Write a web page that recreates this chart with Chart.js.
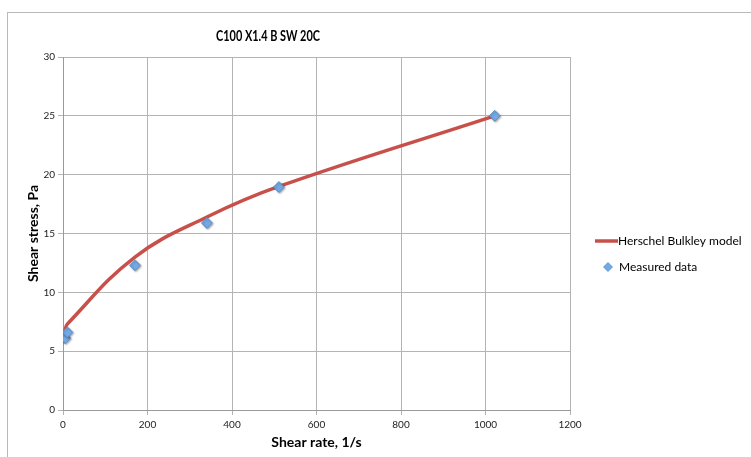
<!DOCTYPE html>
<html>
<head>
<meta charset="utf-8">
<script src="https://cdn.jsdelivr.net/npm/chart.js@4/dist/chart.umd.min.js"></script>
<style>
  html, body { margin: 0; padding: 0; background: #fff; overflow: hidden; }
  #wrap { position: absolute; left: 0; top: 0; width: 751px; height: 457px; }
</style>
</head>
<body>
<div id="wrap"><canvas id="c" width="751" height="457"></canvas></div>
<script>
// Rheology data: C100 X1.4 B SW 20C
const chartTitle = 'C100 X1.4 B SW 20C';
const xTitle = 'Shear rate, 1/s';
const yTitle = 'Shear stress, Pa';
const seriesNames = ['Herschel Bulkley model', 'Measured data'];

// Herschel-Bulkley model curve (shear rate, shear stress)
const modelRate   = [0, 5.1, 10.2, 170.3, 340.6, 510.9, 1021.8];
const modelStress = [5.7, 6.8, 7.3, 13.0, 16.4, 19.0, 25.0];

// Measured viscometer readings
const measRate   = [5.1, 10.2, 170.3, 340.6, 510.9, 1021.8];
const measStress = [6.1, 6.6, 12.3, 15.9, 18.95, 25.0];

// Axis ranges and tick steps
const xTicks = { min: 0, max: 1200, step: 200 };
const yTicks = { min: 0, max: 30, step: 5 };

const RED = '#c8504a';
const BLUE = '#74a9e4';
const BLUE_EDGE = '#5289c8';
const GRID = '#b4b4b4';
const AXIS = '#9a9a9a';
const FONT = 'Lato, "Liberation Sans", sans-serif';

const pairs = (xs, ys) => xs.map((x, i) => ({ x, y: ys[i] }));
const plainTick = v => String(v);

// Frame, title and legend drawn around the plot
const decor = {
  id: 'decor',
  beforeDraw(chart) {
    const ctx = chart.ctx;
    ctx.save();
    ctx.fillStyle = '#fff';
    ctx.fillRect(0, 0, chart.width, chart.height);
    ctx.strokeStyle = '#b9b9b9';
    ctx.lineWidth = 1;
    ctx.strokeRect(7.5, 12.5, 900, 600);
    ctx.restore();
  },
  afterDraw(chart) {
    const ctx = chart.ctx;
    ctx.save();
    ctx.fillStyle = '#000';
    ctx.textBaseline = 'middle';
    ctx.textAlign = 'center';
    // condensed bold title
    ctx.font = 'bold 15px ' + FONT;
    const w = ctx.measureText(chartTitle).width;
    ctx.save();
    ctx.translate(268, 36);
    ctx.scale(Math.min(1, 104 / w), 1);
    ctx.fillText(chartTitle, 0, 0);
    ctx.restore();

    // legend
    ctx.textAlign = 'left';
    ctx.font = '12px ' + FONT;
    ctx.strokeStyle = RED;
    ctx.lineWidth = 3.5;
    ctx.beginPath();
    ctx.moveTo(595, 241);
    ctx.lineTo(618, 241);
    ctx.stroke();
    ctx.fillText(seriesNames[0], 618, 241);

    ctx.fillStyle = BLUE;
    ctx.strokeStyle = BLUE_EDGE;
    ctx.lineWidth = 0.75;
    ctx.beginPath();
    ctx.moveTo(608, 262.5);
    ctx.lineTo(612.5, 267);
    ctx.lineTo(608, 271.5);
    ctx.lineTo(603.5, 267);
    ctx.closePath();
    ctx.fill();
    ctx.stroke();
    ctx.fillStyle = '#000';
    ctx.fillText(seriesNames[1], 619, 267);
    ctx.restore();
  },
  beforeDatasetDraw(chart, args) {
    if (args.index === 1) {
      const ctx = chart.ctx;
      ctx.save();
      ctx.shadowColor = 'rgba(0,0,0,0.35)';
      ctx.shadowBlur = 2;
      ctx.shadowOffsetX = 1;
      ctx.shadowOffsetY = 1;
    }
  },
  afterDatasetDraw(chart, args) {
    if (args.index === 1) chart.ctx.restore();
  }
};

new Chart(document.getElementById('c'), {
  type: 'scatter',
  data: {
    datasets: [
      {
        label: seriesNames[0],
        data: pairs(modelRate, modelStress),
        showLine: true,
        borderColor: RED,
        borderWidth: 3.5,
        pointRadius: 0,
        tension: 0.4,
        fill: false,
        order: 2
      },
      {
        label: seriesNames[1],
        data: pairs(measRate, measStress),
        showLine: false,
        pointStyle: 'rectRot',
        pointRadius: 5.5,
        backgroundColor: BLUE,
        borderColor: BLUE_EDGE,
        borderWidth: 0.75,
        order: 1
      }
    ]
  },
  options: {
    responsive: false,
    animation: false,
    devicePixelRatio: 1,
    layout: { padding: { left: 13, right: 181, top: 57, bottom: 2 } },
    plugins: {
      legend: { display: false },
      title: { display: false },
      tooltip: { enabled: false }
    },
    scales: {
      x: {
        type: 'linear',
        min: xTicks.min,
        max: xTicks.max,
        ticks: {
          stepSize: xTicks.step,
          callback: plainTick,
          color: '#222',
          font: { family: FONT, size: 10 },
          padding: 4,
          maxRotation: 0
        },
        grid: { color: GRID, tickColor: GRID, tickLength: 5, lineWidth: 1 },
        border: { color: AXIS },
        title: {
          display: true,
          text: xTitle,
          color: '#000',
          font: { family: FONT, size: 14, weight: 'bold' },
          padding: { top: 0, bottom: 4 }
        },
        afterFit(scale) { scale.height = 45; }
      },
      y: {
        type: 'linear',
        min: yTicks.min,
        max: yTicks.max,
        ticks: {
          stepSize: yTicks.step,
          callback: plainTick,
          color: '#222',
          font: { family: FONT, size: 10 },
          padding: 3
        },
        grid: { color: GRID, tickColor: GRID, tickLength: 5, lineWidth: 1 },
        border: { color: AXIS },
        title: {
          display: true,
          text: yTitle,
          color: '#000',
          font: { family: FONT, size: 14, weight: 'bold' },
          padding: { top: 12, bottom: 0 }
        },
        afterFit(scale) { scale.width = 50; }
      }
    }
  },
  plugins: [decor]
});
</script>
</body>
</html>
